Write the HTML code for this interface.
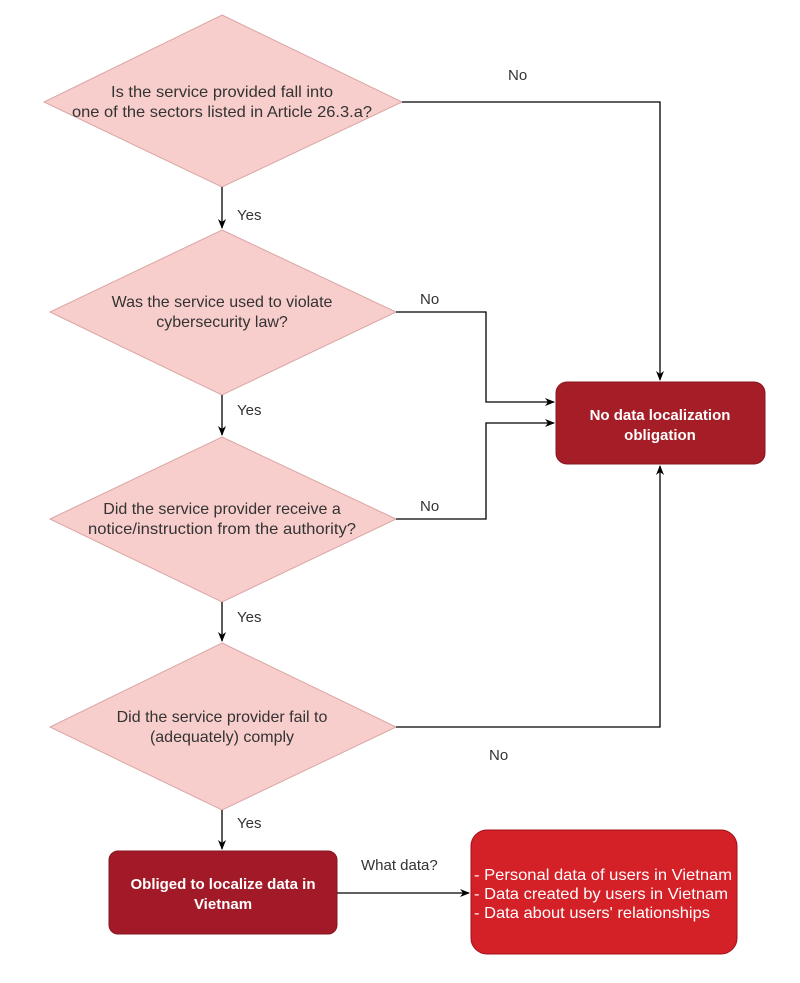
<!DOCTYPE html>
<html><head><meta charset="utf-8"><style>
html,body{margin:0;padding:0;background:#fff;}
svg{display:block;font-family:"Liberation Sans",Arial,sans-serif;}
</style></head><body>
<svg width="800" height="983" viewBox="0 0 800 983" xmlns="http://www.w3.org/2000/svg">
<defs>
<marker id="a" markerWidth="10" markerHeight="10" refX="9" refY="5" orient="auto" markerUnits="userSpaceOnUse">
<path d="M0,1 L10,5 L0,9 L3,5 Z" fill="#000"/>
</marker>
</defs>
<g fill="#f8cecc" stroke="#d9a6a4" stroke-width="1">
<polygon points="222,15 402,102 222,187 44,102"/>
<polygon points="222,230 396,312 222,395 50,312"/>
<polygon points="222,437 396,519 222,602 50,519"/>
<polygon points="222,643 396,727 222,810 50,727"/>
</g>
<g fill="none" stroke="#000" stroke-width="1.3">
<path d="M222,187 V228" marker-end="url(#a)"/>
<path d="M222,395 V435" marker-end="url(#a)"/>
<path d="M222,602 V641" marker-end="url(#a)"/>
<path d="M222,810 V849" marker-end="url(#a)"/>
<path d="M402,102 H660 V380" marker-end="url(#a)"/>
<path d="M396,312 H486 V402 H554" marker-end="url(#a)"/>
<path d="M396,519 H486 V423 H554" marker-end="url(#a)"/>
<path d="M396,727 H660 V466" marker-end="url(#a)"/>
<path d="M337,893 H469" marker-end="url(#a)"/>
</g>
<rect x="556" y="382" width="209" height="82" rx="11" fill="#a51d27" stroke="#8a1520"/>
<rect x="109" y="851" width="228" height="83" rx="9" fill="#a21a28" stroke="#861420"/>
<rect x="471" y="830" width="266" height="124" rx="16" fill="#d42027" stroke="#a01018"/>
<g font-size="16" fill="#333" text-anchor="middle">
<text x="222" y="97" textLength="222" lengthAdjust="spacingAndGlyphs">Is the service provided fall into</text>
<text x="222" y="117" textLength="300" lengthAdjust="spacingAndGlyphs">one of the sectors listed in Article 26.3.a?</text>
<text x="222" y="307">Was the service used to violate</text>
<text x="222" y="327">cybersecurity law?</text>
<text x="222" y="514">Did the service provider receive a</text>
<text x="222" y="534" textLength="268" lengthAdjust="spacingAndGlyphs">notice/instruction from the authority?</text>
<text x="222" y="722">Did the service provider fail to</text>
<text x="222" y="742">(adequately) comply</text>
</g>
<g font-size="15" fill="#333">
<text x="508" y="80">No</text>
<text x="420" y="304">No</text>
<text x="420" y="511">No</text>
<text x="489" y="760">No</text>
<text x="237" y="220">Yes</text>
<text x="237" y="415">Yes</text>
<text x="237" y="622">Yes</text>
<text x="237" y="828">Yes</text>
<text x="361" y="870">What data?</text>
</g>
<g font-size="15" fill="#fff" font-weight="bold" text-anchor="middle">
<text x="660" y="420">No data localization</text>
<text x="660" y="440">obligation</text>
<text x="223" y="889">Obliged to localize data in</text>
<text x="223" y="909">Vietnam</text>
</g>
<g font-size="16" fill="#fff">
<text x="474" y="880" textLength="258" lengthAdjust="spacingAndGlyphs">- Personal data of users in Vietnam</text>
<text x="474" y="899" textLength="254" lengthAdjust="spacingAndGlyphs">- Data created by users in Vietnam</text>
<text x="474" y="918" textLength="236" lengthAdjust="spacingAndGlyphs">- Data about users' relationships</text>
</g>
</svg>
</body></html>
